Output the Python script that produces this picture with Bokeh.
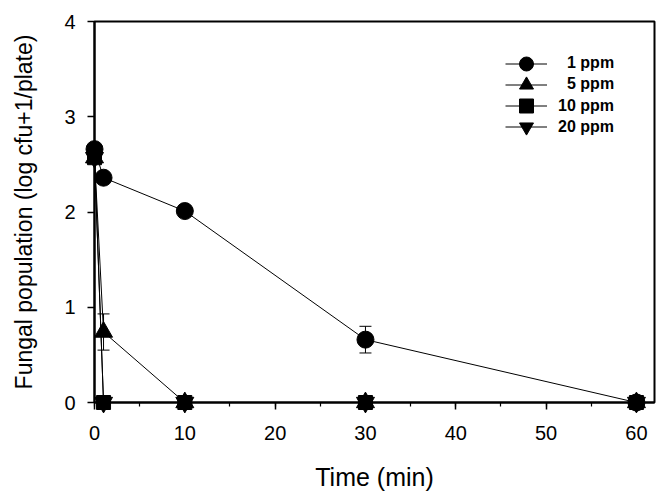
from bokeh.plotting import figure
from bokeh.models import (Range1d, SingleIntervalTicker, FixedTicker, Legend, LegendItem,
                          ColumnDataSource, Whisker, TeeHead)
from bokeh.embed import file_html
from bokeh.resources import INLINE

# ---- data ----
times = [0, 1, 10, 30, 60]
ppm1 = [2.66, 2.36, 2.01, 0.66, 0.0]
ppm1_err = [0.0, 0.0, 0.0, 0.14, 0.0]
ppm5 = [2.57, 0.74, 0.0, 0.0, 0.0]
ppm5_err = [0.0, 0.19, 0.0, 0.0, 0.0]
ppm10 = [2.57, 0.0, 0.0, 0.0, 0.0]
ppm20 = [2.57, 0.0, 0.0, 0.0, 0.0]
series_labels = ["1 ppm", "5 ppm", "10 ppm", "20 ppm"]
y_ticks = [0, 1, 2, 3, 4]

FONT = "Liberation Sans"

p = figure(width=660, height=497, output_backend="svg", toolbar_location=None,
           x_range=Range1d(0, 62), y_range=Range1d(0, 4), title=None,
           min_border_left=94, min_border_right=6, min_border_top=21, min_border_bottom=95)
p.grid.visible = False
p.outline_line_color = "black"
p.outline_line_width = 2
p.background_fill_color = "white"
p.border_fill_color = "white"

p.xaxis.ticker = SingleIntervalTicker(interval=10, num_minor_ticks=2)
p.yaxis.ticker = FixedTicker(ticks=y_ticks)
for ax in (p.xaxis, p.yaxis):
    ax.axis_line_width = 2
    ax.axis_line_color = "black"
    ax.major_tick_line_width = 1.5
    ax.major_tick_line_color = "black"
    ax.minor_tick_line_width = 1.2
    ax.minor_tick_line_color = "black"
    ax.major_tick_out = 7
    ax.major_tick_in = 0
    ax.minor_tick_out = 4
    ax.minor_tick_in = 0
    ax.major_label_text_font = FONT
    ax.major_label_text_font_size = "20px"
    ax.major_label_text_color = "black"
    ax.axis_label_text_font = FONT
    ax.axis_label_text_font_style = "normal"
    ax.axis_label_text_color = "black"
p.yaxis.minor_tick_line_color = None
p.xaxis.axis_label = "Time (min)"
p.yaxis.axis_label = "Fungal population (log cfu+1/plate)"
p.xaxis.axis_label_text_font_size = "25px"
p.yaxis.axis_label_text_font_size = "23px"
p.xaxis.major_label_standoff = 16
p.xaxis.axis_label_standoff = 20
p.yaxis.major_label_standoff = 12
p.yaxis.axis_label_standoff = 24

specs = [
    (ppm20, "inverted_triangle", 18),
    (ppm10, "square", 14),
    (ppm5, "triangle", 18),
    (ppm1, "circle", 17),
]
rend = {}
for vals, marker, size in specs:
    src = ColumnDataSource(dict(x=times, y=vals))
    ln = p.line("x", "y", source=src, line_color="black", line_width=1)
    sc = p.scatter("x", "y", source=src, marker=marker, size=size,
                   fill_color="black", line_color="black")
    sc.level = "overlay"
    rend[marker] = (ln, sc)

# error bars
wx, wlo, whi = [], [], []
for vals, errs in ((ppm1, ppm1_err), (ppm5, ppm5_err)):
    for t, v, e in zip(times, vals, errs):
        if e > 0:
            wx.append(t)
            wlo.append(v - e)
            whi.append(v + e)
wsrc = ColumnDataSource(dict(x=wx, lower=wlo, upper=whi))
whisk = Whisker(source=wsrc, base="x", lower="lower", upper="upper", dimension="height",
                line_color="black", line_width=1,
                upper_head=TeeHead(size=12, line_color="black", line_width=1),
                lower_head=TeeHead(size=12, line_color="black", line_width=1))
p.add_layout(whisk)

# legend: one single-entry legend per row so rows can sit close together
order = ["circle", "triangle", "square", "inverted_triangle"]
for i, (lab, m) in enumerate(zip(series_labels, order)):
    standoff = 20 if len(lab) == 5 else 11
    lg = Legend(items=[LegendItem(label=lab, renderers=list(rend[m]))],
                location=(411, 321.5 - 21.3 * i), glyph_width=42, glyph_height=35,
                spacing=0, padding=0, margin=0, label_standoff=standoff,
                label_text_font=FONT, label_text_font_style="bold",
                label_text_font_size="16px", label_text_color="black",
                border_line_color=None, background_fill_alpha=0)
    p.add_layout(lg)

open("out.html", "w").write(file_html(p, INLINE))
